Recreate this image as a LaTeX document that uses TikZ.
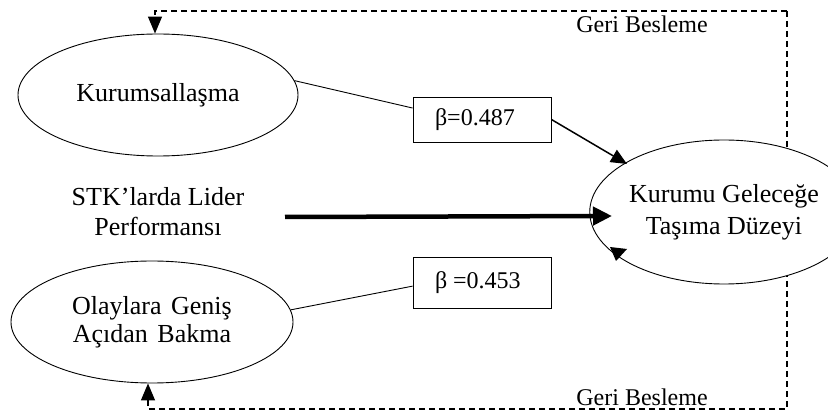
\documentclass[tikz,border=0pt]{standalone}
\usepackage{fontspec}
\setmainfont{Liberation Serif}
\usetikzlibrary{shapes.geometric,arrows.meta,calc}
\begin{document}
\begin{tikzpicture}[x=1pt,y=-1pt,
  oval/.style={ellipse,draw,line width=0.9pt,fill=white,inner sep=0pt,align=center},
  betabox/.style={draw,line width=0.9pt,fill=white,inner sep=0pt,minimum width=138pt,font=\fontsize{24}{28}\selectfont},
  thin/.style={line width=0.9pt},
  fb/.style={line width=1.3pt,dash pattern=on 6pt off 4pt},
  fbtip/.style={-{Triangle[width=14pt,length=17pt]}},
  lbl/.style={inner sep=0pt,font=\fontsize{24}{28}\selectfont}
]
\useasboundingbox (0,0) rectangle (828,414);

% left ellipses
\node[oval,minimum width=280pt,minimum height=122pt,font=\fontsize{26}{30}\selectfont] (k) at (158,95) {Kurumsallaşma};
\node[oval,minimum width=282pt,minimum height=122pt,font=\fontsize{26}{28}\selectfont] (o) at (152,322) {Olaylara\hspace{3pt} Geniş\\Açıdan\hspace{3pt} Bakma};

% feedback dashed loop
\coordinate (tr) at (787,11);
\coordinate (br) at (787,409);
\draw[fb,fbtip] (tr) -| ($(k.north)+(-3,0)$);
\draw[fb,fbtip] (tr) -- (br) -| ($(o.south)+(-4,0)$);
\node[lbl] (g1) at (642,24) {Geri Besleme};
\node[lbl] (g2) at (642,397) {Geri Besleme};

% right ellipse
\node[oval,minimum width=208pt,minimum height=144pt,font=\fontsize{26}{32}\selectfont] (r) at (724,212) {Kurumu Geleceğe\\Taşıma Düzeyi};

% middle text
\node[inner sep=0pt,align=center,font=\fontsize{26}{30}\selectfont] (stk) at (158,212) {STK’larda Lider\\Performansı};

% beta boxes
\node[betabox,minimum height=45pt] (b1) at (482,119.5) {\makebox[138pt][l]{\hspace{22pt}β=0.487}};
\node[betabox,minimum height=51pt] (b2) at (482,282.5) {\makebox[138pt][l]{\hspace{22pt}β =0.453}};

% connectors
\draw[thin] (k.6) -- ($(b1.north west)!0.25!(b1.south west)$);
\draw[thin] (o.5.7) -- ($(b2.north west)!0.57!(b2.south west)$);

\coordinate (a1) at (627,164);
\draw[line width=1.5pt,-{Triangle[width=14pt,length=16pt]}] (b1.east) -- (a1);

\coordinate (s0) at (285,217);
\coordinate (s1) at (612,216);
\draw[line width=4.5pt,-{Triangle[width=18pt,length=19pt]}] (s0) -- (s1);

% detached arrow head near right ellipse
\fill (627,249) -- (610,247) -- (616,261) -- cycle;
\end{tikzpicture}
\end{document}
